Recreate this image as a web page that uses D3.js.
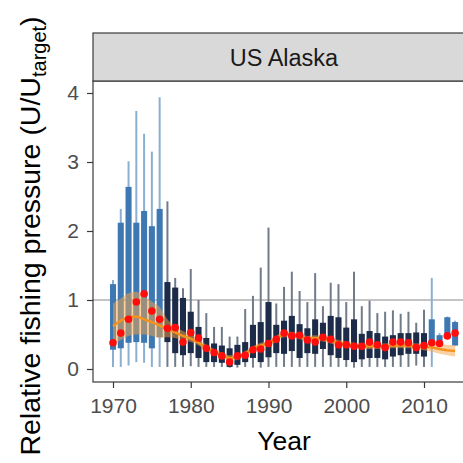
<!DOCTYPE html>
<html>
<head>
<meta charset="utf-8">
<script src="https://cdn.jsdelivr.net/npm/d3@7"></script>
<style>
  body { margin: 0; background: #fff; }
  svg { display: block; font-family: "Liberation Sans", Arial, Helvetica, sans-serif; }
</style>
</head>
<body>
<svg id="chart" width="463" height="463"></svg>
<script>
// Relative fishing pressure per year, US Alaska stocks
const years = [1970,1971,1972,1973,1974,1975,1976,1977,1978,1979,
               1980,1981,1982,1983,1984,1985,1986,1987,1988,1989,
               1990,1991,1992,1993,1994,1995,1996,1997,1998,1999,
               2000,2001,2002,2003,2004,2005,2006,2007,2008,2009,
               2010,2011,2012,2013,2014];
// whisker ends and box quartiles of U/Utarget
const whiskerLow  = [0.03,0.03,0.05,0.10,0.09,0.03,0.03,0.03,0.03,0.03,
                     0.04,0.03,0.03,0.03,0.03,0.02,0.02,0.03,0.02,0.02,
                     0.03,0.03,0.03,0.03,0.03,0.03,0.03,0.03,0.03,0.03,
                     0.03,0.02,0.03,0.03,0.03,0.03,0.03,0.03,0.03,0.05,
                     0.03,0.03,0.34,0.46,0.34];
const boxLow      = [0.28,0.30,0.38,0.39,0.38,0.30,0.46,0.39,0.23,0.20,
                     0.23,0.16,0.10,0.10,0.09,0.03,0.06,0.10,0.16,0.10,
                     0.17,0.23,0.22,0.26,0.16,0.23,0.22,0.29,0.20,0.16,
                     0.13,0.10,0.14,0.16,0.16,0.14,0.18,0.20,0.22,0.22,
                     0.18,0.34,0.35,0.46,0.34];
const boxHigh     = [1.23,2.12,2.64,2.12,2.29,2.07,2.32,1.26,1.18,1.03,
                     0.83,0.61,0.45,0.37,0.34,0.30,0.35,0.39,0.64,0.68,
                     0.97,0.64,0.70,0.77,0.65,0.59,0.72,0.67,0.77,0.75,
                     0.60,0.72,0.51,0.55,0.52,0.47,0.49,0.52,0.52,0.53,
                     0.52,0.72,0.49,0.75,0.68];
const whiskerHigh = [1.29,2.32,3.01,3.74,3.41,3.15,3.94,2.43,1.32,1.17,
                     1.45,1.00,0.81,0.61,0.61,0.47,0.47,0.87,1.06,1.47,
                     2.05,0.95,1.19,1.41,1.13,0.97,1.39,0.91,1.25,1.23,
                     0.97,1.41,0.91,0.99,0.81,0.83,0.85,0.80,0.83,0.67,
                     0.86,1.32,0.52,0.76,0.70];
// aggregate estimate for each year
const median      = [0.38,0.52,0.72,0.97,1.09,0.84,0.72,0.59,0.60,0.39,
                     0.53,0.45,0.30,0.24,0.19,0.10,0.19,0.20,0.28,0.29,
                     0.37,0.43,0.52,0.48,0.49,0.42,0.39,0.46,0.43,0.35,
                     0.35,0.33,0.33,0.39,0.35,0.31,0.39,0.39,0.38,0.31,
                     0.34,0.38,0.37,0.48,0.52];
// smoothed trend with its uncertainty band
const trend       = [0.62,0.70,0.75,0.76,0.72,0.68,0.63,0.58,0.53,0.48,
                     0.44,0.38,0.31,0.25,0.20,0.16,0.17,0.22,0.29,0.34,
                     0.37,0.44,0.50,0.50,0.47,0.44,0.45,0.44,0.41,0.38,
                     0.36,0.34,0.33,0.33,0.33,0.33,0.34,0.34,0.34,0.33,
                     0.32,0.31,0.29,0.27,0.26];
const trendLow    = [0.35,0.42,0.48,0.50,0.50,0.48,0.45,0.46,0.45,0.42,
                     0.39,0.34,0.27,0.21,0.16,0.12,0.13,0.18,0.25,0.30,
                     0.33,0.40,0.46,0.46,0.43,0.40,0.41,0.40,0.37,0.34,
                     0.32,0.30,0.29,0.29,0.29,0.29,0.30,0.30,0.30,0.29,
                     0.27,0.25,0.22,0.20,0.18];
const trendHigh   = [0.95,1.02,1.10,1.12,1.05,0.98,0.90,0.72,0.62,0.55,
                     0.50,0.43,0.35,0.29,0.24,0.20,0.21,0.26,0.33,0.38,
                     0.41,0.48,0.54,0.54,0.51,0.48,0.49,0.48,0.45,0.42,
                     0.40,0.38,0.37,0.37,0.37,0.37,0.38,0.38,0.38,0.37,
                     0.37,0.37,0.36,0.35,0.34];
// years with few assessed stocks (drawn in the lighter colour)
const fewStocks = [1970,1971,1972,1973,1974,1975,1976,2011,2012,2013,2014];

const yTicks = [0, 1, 2, 3, 4];
const xTicks = [1970, 1980, 1990, 2000, 2010];
const panelTitle = "US Alaska";
const targetLine = 1;

const svg = d3.select("#chart");
const panel = { left: 93, right: 475, top: 81, bottom: 382, stripTop: 33 };

const x = d3.scaleLinear().domain([1970, 2010]).range([113, 424]);
const y = d3.scaleLinear().domain([0, 4]).range([369, 93]);
const boxW = (x(1971) - x(1970)) * 0.78;

const rows = years.map((yr, i) => ({
  yr, lo: whiskerLow[i], q1: boxLow[i], q3: boxHigh[i], hi: whiskerHigh[i],
  med: median[i], t: trend[i], tl: trendLow[i], th: trendHigh[i],
  few: fewStocks.includes(yr)
}));

svg.append("clipPath").attr("id", "clip")
  .append("rect")
  .attr("x", panel.left).attr("y", panel.top)
  .attr("width", panel.right - panel.left).attr("height", panel.bottom - panel.top);

const plot = svg.append("g").attr("clip-path", "url(#clip)");

// reference line at U = Utarget
plot.append("line")
  .attr("x1", panel.left).attr("x2", panel.right)
  .attr("y1", y(targetLine)).attr("y2", y(targetLine))
  .attr("stroke", "#c4c4c4").attr("stroke-width", 2);

// whiskers
plot.selectAll("line.whisker").data(rows).join("line")
  .attr("class", "whisker")
  .attr("x1", d => x(d.yr)).attr("x2", d => x(d.yr))
  .attr("y1", d => y(d.lo)).attr("y2", d => y(d.hi))
  .attr("stroke", d => d.few ? "#8bafd2" : "#717b89")
  .attr("stroke-width", 2);

// boxes
plot.selectAll("rect.box").data(rows).join("rect")
  .attr("class", "box")
  .attr("x", d => x(d.yr) - boxW / 2).attr("width", boxW)
  .attr("y", d => y(d.q3)).attr("height", d => y(d.q1) - y(d.q3))
  .attr("fill", d => d.few ? "#3d78b3" : "#1b2b48");

// trend band and line
plot.append("path").datum(rows)
  .attr("d", d3.area().x(d => x(d.yr)).y0(d => y(d.tl)).y1(d => y(d.th)).curve(d3.curveMonotoneX))
  .attr("fill", "#f7a447").attr("fill-opacity", 0.5);

plot.append("path").datum(rows)
  .attr("d", d3.line().x(d => x(d.yr)).y(d => y(d.t)).curve(d3.curveMonotoneX))
  .attr("fill", "none").attr("stroke", "#f5921e").attr("stroke-width", 2.5);

// yearly estimates
plot.selectAll("circle.med").data(rows).join("circle")
  .attr("class", "med")
  .attr("cx", d => x(d.yr)).attr("cy", d => y(d.med)).attr("r", 3.8)
  .attr("fill", "#ff0d0d");

// panel border
svg.append("rect")
  .attr("x", panel.left).attr("y", panel.top)
  .attr("width", panel.right - panel.left).attr("height", panel.bottom - panel.top)
  .attr("fill", "none").attr("stroke", "#3a3a3a").attr("stroke-width", 1.2);

// facet strip
svg.append("rect")
  .attr("x", panel.left).attr("y", panel.stripTop)
  .attr("width", panel.right - panel.left).attr("height", panel.top - panel.stripTop)
  .attr("fill", "#d9d9d9").attr("stroke", "#3a3a3a").attr("stroke-width", 1.2);
svg.append("text")
  .attr("x", (panel.left + panel.right) / 2).attr("y", 66)
  .attr("text-anchor", "middle").attr("font-size", 23.5).attr("fill", "#1a1a1a")
  .text(panelTitle);

// axes
const yAxis = svg.append("g").attr("transform", `translate(${panel.left},0)`)
  .call(d3.axisLeft(y).tickValues(yTicks).tickSize(6).tickPadding(8).tickFormat(d3.format("d")));
const xAxis = svg.append("g").attr("transform", `translate(0,${panel.bottom})`)
  .call(d3.axisBottom(x).tickValues(xTicks).tickSize(6).tickPadding(10).tickFormat(d3.format("d")));
[yAxis, xAxis].forEach(g => {
  g.select(".domain").remove();
  g.selectAll(".tick line").attr("stroke", "#3a3a3a").attr("stroke-width", 1.2);
  g.selectAll(".tick text").attr("fill", "#4d4d4d").attr("font-size", 21)
    .attr("font-family", "Liberation Sans, Arial, sans-serif");
});

// axis titles
svg.append("text")
  .attr("x", 284).attr("y", 450)
  .attr("text-anchor", "middle").attr("font-size", 26.5).attr("fill", "#000")
  .text("Year");

const yTitle = svg.append("text")
  .attr("transform", "translate(40,236) rotate(-90)")
  .attr("text-anchor", "middle").attr("font-size", 28.5).attr("fill", "#000");
yTitle.append("tspan").text("Relative fishing pressure (U/U");
yTitle.append("tspan").attr("font-size", 20).attr("dy", 6).text("target");
yTitle.append("tspan").attr("dy", -6).text(")");
</script>
</body>
</html>
